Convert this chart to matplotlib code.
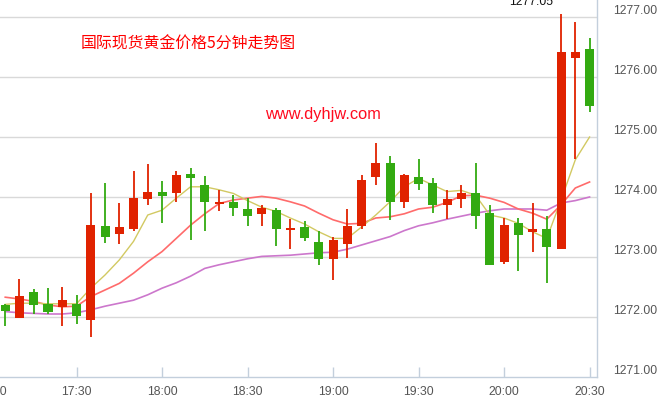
import matplotlib
matplotlib.use('Agg')
import matplotlib.pyplot as plt

plt.rcParams['font.family'] = ['Liberation Sans', 'Noto Sans CJK SC', 'DejaVu Sans']

# 5 minute candles, 17:05 - 20:30
times = ['17:05', '17:10', '17:15', '17:20', '17:25', '17:30', '17:35', '17:40', '17:45', '17:50',
         '17:55', '18:00', '18:05', '18:10', '18:15', '18:20', '18:25', '18:30', '18:35', '18:40',
         '18:45', '18:50', '18:55', '19:00', '19:05', '19:10', '19:15', '19:20', '19:25', '19:30',
         '19:35', '19:40', '19:45', '19:50', '19:55', '20:00', '20:05', '20:10', '20:15', '20:20',
         '20:25', '20:30']
opens = [1272.20, 1271.99, 1272.42, 1272.22, 1272.16, 1272.22, 1271.95, 1273.52, 1273.39, 1273.47,
         1273.97, 1274.08, 1274.06, 1274.38, 1274.20, 1273.89, 1273.92, 1273.80, 1273.71, 1273.78,
         1273.455, 1273.50, 1273.25, 1272.96, 1273.21, 1273.52, 1274.34, 1274.57, 1273.92, 1274.33,
         1274.23, 1273.86, 1273.96, 1274.07, 1273.73, 1272.91, 1273.57, 1273.41, 1273.47, 1273.14,
         1276.32, 1276.47]
highs = [1272.22, 1272.63, 1272.47, 1272.48, 1272.50, 1272.37, 1274.07, 1274.23, 1273.90, 1274.43,
         1274.55, 1274.27, 1274.43, 1274.48, 1274.35, 1274.12, 1274.03, 1273.98, 1273.86, 1273.81,
         1273.63, 1273.60, 1273.43, 1273.33, 1273.80, 1274.37, 1274.90, 1274.68, 1274.38, 1274.63,
         1274.32, 1274.12, 1274.20, 1274.57, 1273.87, 1273.65, 1273.65, 1273.90, 1273.68, 1277.05,
         1276.92, 1276.65]
lows = [1271.85, 1271.99, 1272.05, 1272.05, 1271.85, 1271.89, 1271.67, 1273.24, 1273.22, 1273.44,
        1273.86, 1273.57, 1273.91, 1273.29, 1273.44, 1273.76, 1273.69, 1273.52, 1273.51, 1273.19,
        1273.14, 1273.26, 1272.86, 1272.62, 1272.99, 1273.46, 1274.20, 1273.62, 1273.81, 1274.12,
        1273.74, 1273.64, 1273.82, 1273.46, 1272.87, 1272.89, 1272.77, 1273.09, 1272.57, 1273.14,
        1274.63, 1275.42]
closes = [1272.10, 1272.35, 1272.20, 1272.08, 1272.28, 1272.02, 1273.53, 1273.34, 1273.50, 1273.98,
          1274.08, 1274.02, 1274.37, 1274.31, 1273.91, 1273.92, 1273.81, 1273.69, 1273.82, 1273.47,
          1273.48, 1273.31, 1272.96, 1273.28, 1273.52, 1274.28, 1274.57, 1273.92, 1274.37, 1274.22,
          1273.86, 1273.97, 1274.07, 1273.69, 1272.87, 1273.53, 1273.37, 1273.46, 1273.17, 1276.42,
          1276.41, 1275.51]

# moving average lines
ma5 = [1272.21, 1272.23, 1272.23, 1272.22, 1272.22, 1272.22, 1272.48, 1272.70, 1272.95, 1273.26,
       1273.70, 1273.78, 1273.98, 1274.17, 1274.17, 1274.12, 1274.06, 1273.94, 1273.83, 1273.76,
       1273.65, 1273.55, 1273.42, 1273.31, 1273.31, 1273.50, 1273.70, 1273.92, 1274.17, 1274.31,
       1274.20, 1274.09, 1274.11, 1274.03, 1273.70, 1273.65, 1273.56, 1273.42, 1273.31, 1273.95,
       1274.62, 1275.00]
ma10 = [1272.33, 1272.30, 1272.26, 1272.20, 1272.17, 1272.18, 1272.34, 1272.45, 1272.56, 1272.73,
        1272.92, 1273.09, 1273.31, 1273.53, 1273.72, 1273.89, 1273.95, 1273.98, 1274.01, 1273.98,
        1273.92, 1273.85, 1273.73, 1273.62, 1273.55, 1273.56, 1273.65, 1273.67, 1273.72, 1273.80,
        1273.83, 1273.91, 1274.02, 1274.03, 1273.98, 1273.91, 1273.80, 1273.73, 1273.63, 1273.87,
        1274.15, 1274.25]
ma20 = [1272.09, 1272.07, 1272.06, 1272.05, 1272.05, 1272.07, 1272.12, 1272.18, 1272.23, 1272.28,
        1272.37, 1272.48, 1272.57, 1272.68, 1272.81, 1272.87, 1272.92, 1272.97, 1273.01, 1273.02,
        1273.03, 1273.05, 1273.07, 1273.08, 1273.13, 1273.20, 1273.27, 1273.34, 1273.44, 1273.52,
        1273.57, 1273.63, 1273.68, 1273.73, 1273.77, 1273.80, 1273.80, 1273.80, 1273.78, 1273.90,
        1273.94, 1274.00]

x_tick_labels = ['17:30', '18:00', '18:30', '19:00', '19:30', '20:00', '20:30']
y_ticks = [1271, 1272, 1273, 1274, 1275, 1276, 1277]
max_label = '1277.05'
title = '国际现货黄金价格5分钟走势图'
site = 'www.dyhjw.com'

UP = '#e02200'
DOWN = '#33aa11'
AXIS = '#c3cfdc'
LABEL = '#555555'


def to_min(s):
    h, m = s.split(':')
    return (int(h) - 17) * 60 + int(m)


x = [to_min(t) for t in times]

fig = plt.figure(figsize=(6.7, 4), dpi=100)
ax = fig.add_axes([0, 23 / 400, 596.7 / 670, 377 / 400])

for yv in y_ticks[1:]:
    ax.axhline(yv, color='#d9d9d9', lw=1.0, zorder=1)

ax.plot(x, ma20, color='#cc77cc', lw=1.2, zorder=2)
ax.plot(x, ma10, color='#ff6b6b', lw=1.2, zorder=2)
ax.plot(x, ma5, color='#d2c962', lw=1.0, zorder=2)

colors = [UP if c >= o else DOWN for o, c in zip(opens, closes)]
ax.vlines(x, lows, highs, colors=colors, lw=1.3, zorder=3)
bottoms = [min(o, c) for o, c in zip(opens, closes)]
heights = [max(abs(c - o), 0.02) for o, c in zip(opens, closes)]
ax.bar(x, heights, bottom=bottoms, width=3.16, color=colors, lw=0, zorder=4)

# max marker
imax = highs.index(max(highs))
ax.annotate(max_label, xy=(x[imax], highs[imax]), xytext=(-5.4, 6.7), textcoords='offset points',
            ha='right', va='baseline', fontsize=8.8, color='#111111', annotation_clip=False)

ax.set_xlim(3.16, 212.5)
ax.set_ylim(1271, 1277.283)

ax.set_xticks([to_min(t) for t in x_tick_labels])
ax.set_xticklabels(x_tick_labels)
ax.tick_params(axis='x', direction='in', length=7.2, width=1, color=AXIS, pad=6.5,
               labelsize=8.8, labelcolor=LABEL)
ax.annotate('17:00', xy=(0, 0), xycoords=('data', 'axes fraction'), xytext=(0, -6.5),
            textcoords='offset points', ha='center', va='top', fontsize=8.8, color=LABEL,
            annotation_clip=False)

ax.yaxis.tick_right()
ax.set_yticks(y_ticks)
ax.set_yticklabels(['%.2f' % v for v in y_ticks])
ax.tick_params(axis='y', length=0, pad=11.5, labelsize=8.8, labelcolor=LABEL)
for lab in ax.get_yticklabels():
    lab.set_verticalalignment('bottom')

for side in ['top', 'left']:
    ax.spines[side].set_visible(False)
for side in ['bottom', 'right']:
    ax.spines[side].set_color(AXIS)
    ax.spines[side].set_linewidth(1.0)

fig.text(81 / 670, 1 - 44 / 400, title, color='#ff0000', fontsize=11.45,
         family=['Noto Sans CJK SC', 'DejaVu Sans'], ha='left', va='center')
fig.text(323 / 670, 1 - 115 / 400, site, color='#ff0a1e', fontsize=11.8, ha='center', va='center')

fig.savefig('out.png', dpi=100)
